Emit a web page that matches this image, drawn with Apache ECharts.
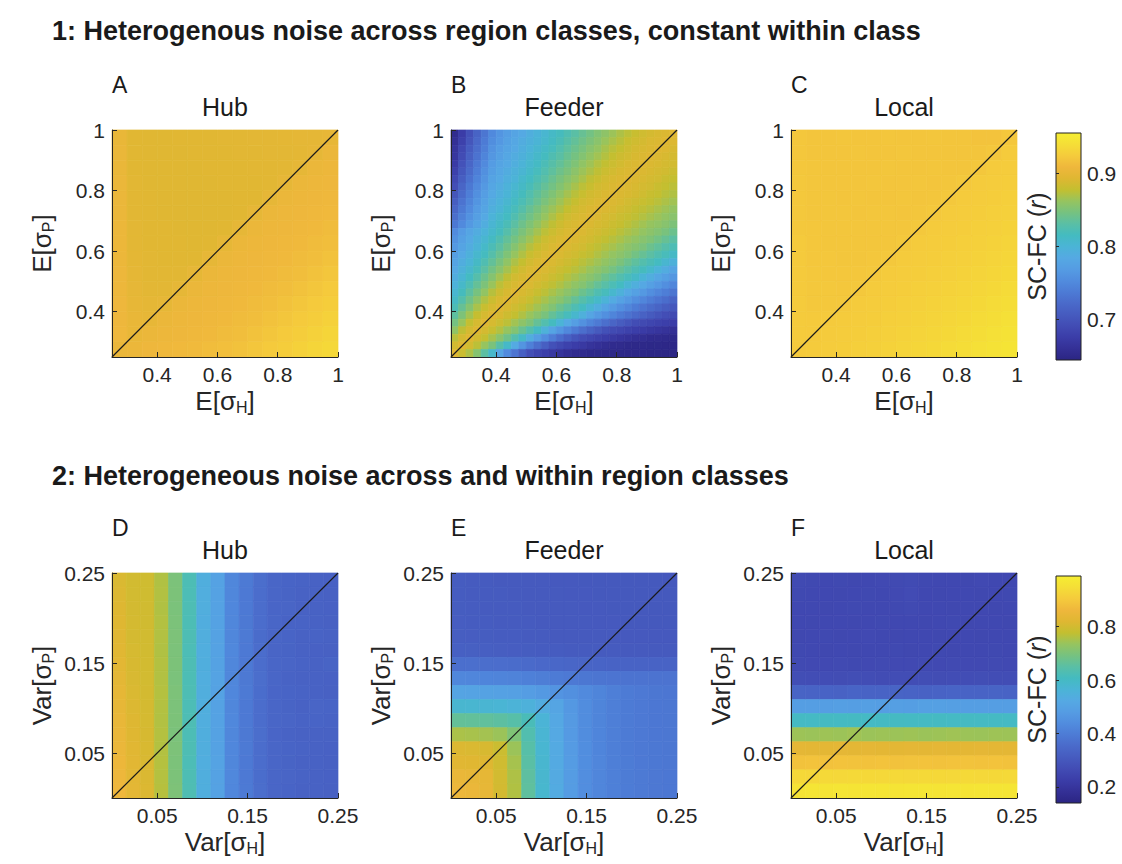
<!DOCTYPE html>
<html><head><meta charset="utf-8">
<script src="https://cdn.jsdelivr.net/npm/echarts@6/dist/echarts.min.js"></script>
<style>html,body{margin:0;padding:0;background:#fff}#c{width:1122px;height:864px}</style>
</head><body><div id="c"></div>
<script>
// ---------- data (rows listed top -> bottom, columns left -> right) ----------
const eRange = [0.25, 1];            // E[sigma] axis extent
const vRange = [0, 0.25];            // Var[sigma] axis extent
const eTicks = [0.4, 0.6, 0.8, 1];
const vTicks = [0.05, 0.15, 0.25];
const cRange1 = [0.645, 0.955];      // colour scale, row 1
const cRange2 = [0.14, 0.99];        // colour scale, row 2
const cbTicks1 = [0.7, 0.8, 0.9];
const cbTicks2 = [0.2, 0.4, 0.6, 0.8];
const panelTitles = ['Hub', 'Feeder', 'Local', 'Hub', 'Feeder', 'Local'];
const panelLetters = ['A', 'B', 'C', 'D', 'E', 'F'];
const rowTitles = ['1: Heterogenous noise across region classes, constant within class',
                   '2: Heterogeneous noise across and within region classes'];

const eHub = [
[.903,.895,.894,.894,.895,.895,.895,.896,.896,.897,.897,.898,.899,.899,.901],
[.904,.895,.894,.894,.894,.895,.895,.895,.896,.896,.897,.897,.898,.900,.905],
[.904,.895,.894,.894,.894,.894,.895,.895,.895,.896,.896,.897,.900,.905,.907],
[.905,.896,.894,.894,.894,.894,.894,.895,.895,.895,.896,.900,.905,.907,.908],
[.905,.896,.895,.894,.894,.894,.894,.894,.895,.895,.900,.905,.907,.908,.909],
[.905,.896,.895,.894,.894,.894,.894,.894,.895,.900,.905,.907,.908,.909,.910],
[.906,.897,.895,.895,.894,.894,.894,.895,.900,.905,.907,.908,.909,.910,.912],
[.906,.897,.895,.895,.895,.894,.895,.900,.905,.907,.908,.909,.910,.912,.914],
[.906,.898,.896,.895,.895,.895,.900,.905,.907,.908,.909,.910,.912,.914,.917],
[.907,.899,.896,.896,.896,.900,.905,.907,.908,.909,.910,.912,.914,.917,.920],
[.907,.900,.897,.897,.900,.905,.907,.908,.909,.910,.912,.914,.917,.920,.923],
[.908,.901,.899,.900,.905,.907,.908,.909,.910,.912,.914,.917,.920,.923,.926],
[.908,.903,.901,.905,.907,.908,.909,.910,.912,.914,.917,.920,.923,.926,.929],
[.909,.903,.905,.907,.908,.909,.910,.912,.914,.917,.920,.923,.926,.929,.932],
[.905,.906,.908,.909,.910,.911,.913,.915,.917,.920,.923,.926,.929,.932,.935]
];

const eFeeder = [
[.655,.675,.697,.716,.733,.751,.762,.771,.779,.785,.792,.798,.804,.811,.817,.824,.831,.838,.845,.852,.858,.864,.870,.875,.880,.884,.887,.889,.891,.893],
[.660,.680,.702,.721,.738,.755,.765,.775,.782,.789,.795,.801,.807,.814,.821,.829,.836,.843,.850,.856,.863,.869,.874,.880,.884,.887,.890,.891,.893,.892],
[.665,.687,.708,.726,.742,.760,.770,.778,.785,.792,.798,.805,.812,.818,.826,.834,.841,.848,.855,.861,.868,.874,.878,.883,.887,.889,.891,.893,.892,.889],
[.668,.692,.713,.731,.747,.764,.774,.782,.789,.795,.802,.809,.816,.824,.831,.839,.846,.853,.860,.866,.872,.878,.883,.886,.889,.891,.893,.891,.889,.887],
[.673,.698,.718,.736,.752,.769,.778,.785,.792,.799,.806,.813,.821,.829,.836,.844,.851,.859,.865,.872,.877,.882,.886,.889,.891,.893,.891,.889,.887,.886],
[.680,.704,.723,.741,.757,.773,.782,.789,.796,.803,.810,.818,.826,.834,.842,.849,.857,.864,.870,.876,.882,.886,.889,.891,.893,.891,.889,.887,.885,.882],
[.687,.710,.729,.746,.761,.777,.785,.793,.799,.808,.815,.823,.831,.840,.848,.855,.862,.869,.876,.881,.886,.889,.891,.893,.891,.889,.887,.885,.881,.878],
[.694,.717,.735,.752,.766,.781,.789,.797,.804,.812,.820,.829,.837,.845,.853,.861,.868,.875,.880,.886,.888,.891,.893,.891,.889,.887,.885,.881,.878,.875],
[.702,.723,.741,.757,.771,.785,.793,.800,.809,.817,.826,.835,.843,.851,.859,.867,.874,.880,.885,.888,.891,.893,.891,.889,.887,.884,.880,.878,.874,.871],
[.710,.731,.747,.762,.776,.789,.797,.805,.814,.822,.831,.840,.849,.857,.865,.873,.879,.885,.888,.891,.893,.891,.889,.886,.883,.880,.877,.874,.870,.866],
[.718,.737,.753,.768,.780,.793,.801,.810,.819,.828,.838,.847,.856,.864,.871,.878,.884,.888,.891,.893,.891,.889,.886,.883,.879,.876,.873,.869,.865,.861],
[.726,.744,.759,.773,.784,.798,.807,.815,.825,.835,.844,.853,.862,.870,.877,.884,.888,.890,.893,.891,.888,.886,.882,.879,.876,.872,.868,.864,.860,.856],
[.735,.752,.766,.778,.790,.803,.812,.821,.832,.842,.851,.860,.869,.876,.883,.888,.890,.893,.891,.888,.886,.882,.879,.875,.871,.866,.862,.859,.855,.850],
[.753,.768,.780,.789,.798,.808,.817,.828,.839,.849,.858,.867,.875,.882,.887,.890,.893,.891,.888,.885,.882,.878,.874,.870,.866,.861,.857,.853,.848,.841],
[.759,.774,.785,.795,.804,.814,.825,.836,.846,.856,.865,.874,.882,.887,.890,.893,.891,.888,.885,.881,.877,.873,.869,.864,.860,.855,.851,.845,.838,.832],
[.766,.779,.789,.799,.810,.821,.832,.843,.854,.864,.873,.880,.886,.890,.893,.890,.888,.885,.880,.876,.872,.868,.863,.858,.854,.849,.841,.835,.828,.822],
[.772,.784,.795,.806,.816,.828,.840,.851,.862,.871,.880,.886,.890,.893,.890,.887,.884,.879,.876,.871,.866,.861,.857,.852,.845,.838,.832,.825,.819,.812],
[.778,.790,.800,.812,.824,.836,.848,.859,.870,.878,.886,.890,.893,.890,.887,.883,.879,.874,.870,.865,.860,.855,.849,.841,.834,.827,.821,.815,.805,.796],
[.784,.796,.807,.819,.832,.845,.856,.867,.877,.885,.890,.893,.890,.887,.882,.878,.874,.869,.863,.858,.853,.846,.838,.831,.823,.817,.808,.798,.789,.779],
[.790,.802,.815,.828,.841,.854,.866,.876,.885,.889,.893,.890,.887,.882,.877,.872,.867,.861,.856,.850,.841,.834,.826,.819,.811,.800,.791,.781,.773,.764],
[.797,.809,.823,.837,.850,.863,.875,.884,.889,.893,.890,.886,.881,.876,.871,.865,.859,.854,.846,.837,.830,.822,.815,.803,.793,.783,.774,.765,.756,.748],
[.804,.817,.833,.847,.860,.873,.883,.889,.893,.889,.886,.880,.875,.869,.863,.857,.851,.841,.834,.824,.818,.806,.796,.785,.775,.766,.756,.748,.741,.733],
[.812,.827,.843,.858,.871,.882,.889,.893,.889,.885,.880,.874,.868,.861,.855,.847,.837,.828,.820,.810,.799,.787,.776,.766,.756,.748,.740,.732,.725,.716],
[.821,.838,.854,.869,.880,.888,.893,.889,.884,.879,.873,.866,.859,.852,.841,.833,.823,.815,.802,.791,.778,.767,.757,.748,.739,.731,.723,.716,.709,.703],
[.833,.850,.866,.879,.888,.893,.889,.883,.878,.871,.863,.856,.848,.837,.827,.818,.806,.794,.780,.767,.757,.747,.738,.730,.722,.714,.707,.700,.694,.689],
[.846,.863,.878,.888,.893,.888,.882,.875,.866,.858,.850,.837,.826,.816,.800,.785,.771,.758,.747,.737,.727,.717,.709,.701,.693,.689,.685,.681,.678,.675],
[.859,.876,.887,.893,.887,.880,.872,.862,.853,.840,.827,.814,.796,.778,.763,.750,.738,.726,.716,.706,.697,.690,.686,.681,.677,.674,.670,.667,.664,.660],
[.874,.887,.893,.886,.878,.868,.856,.843,.827,.811,.790,.771,.754,.740,.725,.712,.701,.691,.686,.680,.676,.671,.667,.663,.659,.657,.654,.653,.652,.651],
[.886,.893,.886,.875,.862,.849,.829,.810,.786,.762,.743,.727,.711,.697,.688,.681,.676,.671,.665,.661,.657,.654,.653,.651,.650,.650,.649,.649,.648,.648],
[.893,.882,.870,.854,.832,.808,.778,.753,.732,.712,.695,.685,.677,.671,.665,.659,.655,.653,.651,.650,.650,.649,.649,.648,.648,.648,.647,.647,.647,.646]
];

const eLocal = [
[.921,.919,.919,.920,.919,.919,.920,.919,.919,.920,.919,.919,.918,.918,.921],
[.921,.919,.919,.919,.920,.919,.919,.920,.919,.919,.919,.919,.919,.921,.924],
[.921,.920,.919,.919,.919,.919,.920,.919,.919,.920,.919,.919,.921,.924,.925],
[.922,.920,.919,.919,.919,.920,.919,.919,.920,.919,.920,.922,.924,.925,.926],
[.922,.920,.920,.919,.920,.919,.919,.920,.919,.920,.922,.924,.925,.926,.927],
[.922,.920,.920,.920,.919,.920,.920,.919,.920,.922,.924,.925,.926,.927,.928],
[.922,.921,.920,.920,.920,.920,.920,.920,.922,.924,.925,.926,.927,.928,.930],
[.923,.921,.920,.920,.920,.920,.920,.922,.924,.925,.926,.927,.928,.930,.931],
[.923,.921,.921,.920,.920,.921,.922,.924,.925,.926,.927,.928,.930,.931,.933],
[.923,.922,.921,.921,.921,.922,.924,.925,.926,.927,.928,.930,.931,.933,.935],
[.923,.922,.922,.921,.922,.924,.925,.926,.927,.928,.930,.931,.933,.935,.937],
[.924,.922,.922,.922,.924,.925,.926,.927,.928,.930,.931,.933,.935,.937,.939],
[.924,.923,.923,.924,.925,.926,.927,.928,.930,.931,.933,.935,.937,.939,.941],
[.924,.923,.924,.925,.926,.927,.928,.930,.931,.933,.935,.937,.939,.941,.943],
[.923,.924,.925,.926,.927,.928,.930,.931,.933,.935,.937,.939,.941,.943,.945]
];

const vHub = [
[.812,.800,.795,.760,.700,.625,.542,.498,.425,.392,.362,.340,.336,.332,.330,.328],
[.815,.801,.796,.761,.701,.624,.540,.500,.424,.390,.360,.341,.335,.331,.331,.327],
[.818,.802,.797,.760,.699,.626,.541,.499,.426,.391,.361,.339,.337,.330,.329,.328],
[.820,.803,.797,.762,.700,.625,.539,.501,.425,.389,.360,.340,.334,.333,.330,.326],
[.823,.804,.798,.761,.702,.627,.541,.500,.424,.392,.358,.341,.336,.331,.332,.329],
[.826,.806,.799,.760,.700,.624,.540,.498,.427,.390,.361,.338,.335,.330,.328,.327],
[.830,.808,.800,.762,.701,.626,.542,.500,.425,.391,.360,.340,.337,.332,.330,.335],
[.834,.810,.801,.761,.699,.625,.540,.502,.424,.389,.362,.341,.334,.331,.329,.328],
[.838,.812,.802,.763,.702,.627,.541,.499,.426,.392,.359,.339,.336,.333,.331,.327],
[.842,.815,.803,.762,.700,.624,.543,.500,.425,.390,.361,.340,.335,.330,.338,.336],
[.846,.818,.805,.761,.701,.626,.540,.501,.427,.391,.360,.342,.337,.332,.336,.334],
[.850,.821,.807,.763,.699,.625,.542,.499,.424,.389,.362,.339,.334,.331,.330,.329],
[.853,.824,.809,.762,.702,.627,.541,.500,.426,.392,.360,.341,.336,.333,.331,.328],
[.856,.827,.811,.764,.700,.624,.540,.502,.425,.390,.361,.340,.335,.330,.329,.327],
[.859,.830,.813,.763,.701,.626,.542,.499,.427,.391,.359,.342,.337,.332,.330,.328],
[.862,.833,.815,.765,.703,.628,.543,.501,.426,.392,.362,.341,.336,.331,.329,.327]
];

const vFeeder = [
[.312,.310,.309,.308,.307,.306,.306,.305,.305,.304,.304,.304,.303,.303,.303,.302],
[.313,.311,.310,.309,.308,.307,.306,.306,.305,.305,.304,.304,.304,.303,.303,.303],
[.315,.313,.311,.310,.309,.308,.307,.306,.306,.305,.305,.304,.304,.304,.303,.303],
[.316,.314,.313,.311,.310,.309,.308,.307,.306,.306,.305,.305,.304,.304,.304,.304],
[.318,.316,.315,.313,.312,.310,.309,.308,.307,.307,.306,.306,.305,.305,.305,.305],
[.325,.323,.321,.319,.317,.315,.313,.312,.311,.310,.309,.309,.308,.308,.308,.307],
[.365,.364,.362,.360,.357,.352,.348,.344,.340,.338,.336,.334,.333,.333,.332,.332],
[.425,.423,.421,.418,.414,.408,.402,.396,.390,.385,.381,.378,.376,.375,.374,.374],
[.505,.503,.500,.497,.492,.484,.472,.460,.447,.433,.420,.405,.395,.390,.385,.383],
[.578,.576,.573,.569,.562,.552,.535,.510,.470,.440,.420,.405,.395,.390,.386,.384],
[.665,.663,.660,.655,.645,.620,.565,.520,.475,.440,.420,.405,.395,.390,.386,.384],
[.755,.752,.748,.740,.705,.635,.570,.522,.476,.441,.421,.405,.396,.390,.386,.384],
[.815,.812,.808,.790,.740,.645,.575,.525,.478,.442,.421,.406,.396,.391,.387,.385],
[.825,.822,.818,.795,.750,.650,.578,.527,.479,.442,.422,.406,.397,.391,.387,.385],
[.848,.845,.838,.800,.758,.656,.580,.528,.480,.443,.422,.407,.397,.392,.388,.386],
[.858,.852,.842,.802,.760,.658,.581,.529,.481,.444,.423,.407,.398,.392,.388,.386]
];

const vLocal = [
[.262,.258,.256,.258,.255,.257,.260,.262,.264,.258,.256,.257,.255,.259,.257,.256],
[.258,.256,.257,.255,.256,.258,.257,.259,.266,.257,.255,.256,.257,.255,.256,.258],
[.256,.257,.255,.256,.258,.256,.257,.258,.262,.256,.257,.255,.256,.257,.255,.256],
[.257,.255,.256,.257,.255,.256,.258,.256,.257,.255,.256,.258,.255,.256,.257,.255],
[.255,.256,.258,.255,.257,.260,.256,.255,.256,.257,.255,.256,.257,.255,.256,.257],
[.258,.257,.255,.256,.255,.257,.256,.258,.255,.256,.258,.255,.256,.257,.258,.256],
[.262,.260,.259,.261,.258,.260,.262,.259,.260,.261,.259,.262,.260,.259,.261,.260],
[.272,.270,.271,.269,.272,.270,.268,.271,.270,.272,.269,.271,.270,.272,.270,.271],
[.335,.332,.334,.331,.336,.333,.332,.335,.333,.331,.334,.336,.332,.333,.335,.332],
[.488,.485,.487,.490,.486,.489,.487,.491,.488,.494,.492,.489,.487,.486,.488,.487],
[.602,.600,.603,.601,.604,.600,.602,.603,.601,.602,.604,.600,.603,.601,.602,.600],
[.742,.740,.743,.741,.744,.740,.742,.741,.743,.740,.742,.744,.741,.740,.743,.742],
[.835,.832,.834,.836,.833,.835,.834,.832,.836,.833,.835,.834,.832,.835,.833,.834],
[.885,.888,.886,.889,.887,.885,.888,.886,.887,.889,.886,.888,.887,.885,.888,.886],
[.935,.932,.936,.934,.937,.935,.933,.936,.934,.937,.935,.933,.936,.934,.935,.936],
[.962,.965,.964,.966,.963,.965,.967,.964,.966,.965,.963,.966,.964,.967,.965,.966]
];

// parula-like colour map (21 evenly spaced stops)
const parula = ['#2b2583','#343096','#3b3da8','#424cb4','#465bbf','#4a6aca',
                '#4d7bd5','#518cde','#559ce3','#55a9e3','#4bb4d6','#44bbc0',
                '#5abfa5','#76c280','#96c45f','#c3bf30','#dfb732','#efb73c',
                '#f5cb3c','#f5de37','#f6ee32'];

// ---------- layout ----------
const FONT = '"Liberation Sans", Arial, Helvetica, sans-serif';
const INK = '#262626';
const colsX = [112, 451, 791];
const rowsY = [130, 573];
const PW = 226, PH = 227;

const grids = [], xAxes = [], yAxes = [], series = [], graphics = [];

const panels = [
  {rows: eHub, range: eRange, ticks: eTicks, xn: 'E[σ{s|H}]', yn: 'E[σ{s|P}]'},
  {rows: eFeeder, range: eRange, ticks: eTicks, xn: 'E[σ{s|H}]', yn: 'E[σ{s|P}]'},
  {rows: eLocal, range: eRange, ticks: eTicks, xn: 'E[σ{s|H}]', yn: 'E[σ{s|P}]'},
  {rows: vHub, range: vRange, ticks: vTicks, xn: 'Var[σ{s|H}]', yn: 'Var[σ{s|P}]'},
  {rows: vFeeder, range: vRange, ticks: vTicks, xn: 'Var[σ{s|H}]', yn: 'Var[σ{s|P}]'},
  {rows: vLocal, range: vRange, ticks: vTicks, xn: 'Var[σ{s|H}]', yn: 'Var[σ{s|P}]'}
];

function cells(rows, lo, hi) {
  const n = rows.length, m = rows[0].length, dx = (hi - lo) / m, dy = (hi - lo) / n;
  const out = [];
  rows.forEach((row, r) => {
    const yi = n - 1 - r;
    row.forEach((v, j) => out.push([lo + j * dx, lo + (j + 1) * dx, lo + yi * dy, lo + (yi + 1) * dy, v]));
  });
  return out;
}

const nameStyle = {
  fontSize: 26, color: INK, fontFamily: FONT,
  rich: { s: { fontSize: 16, color: INK, fontFamily: FONT, verticalAlign: 'bottom', padding: [13, 0, 0, 0] } }
};

function valueAxis(gi, range, ticks, name, isY) {
  return {
    type: 'value', gridIndex: gi, min: range[0], max: range[1], z: 10,
    position: isY ? 'left' : 'bottom',
    axisLine: { show: true, onZero: false, lineStyle: { color: INK, width: 1 } },
    axisTick: { show: true, inside: true, length: 5, customValues: ticks, lineStyle: { color: INK, width: 1 } },
    axisLabel: { customValues: ticks, fontSize: 21, color: INK, fontFamily: FONT, margin: 7 },
    splitLine: { show: false },
    name: name, nameLocation: 'middle', nameGap: isY ? 56 : 29,
    nameRotate: isY ? 90 : 0,
    nameTextStyle: nameStyle
  };
}

panels.forEach((p, k) => {
  const left = colsX[k % 3], top = rowsY[Math.floor(k / 3)];
  grids.push({ left: left, top: top, width: PW, height: k < 3 ? PH : 225 });
  xAxes.push(valueAxis(k, p.range, p.ticks, p.xn, false));
  yAxes.push(valueAxis(k, p.range, p.ticks, p.yn, true));
  series.push({
    type: 'custom', xAxisIndex: k, yAxisIndex: k, silent: true, z: 1,
    data: cells(p.rows, p.range[0], p.range[1]),
    encode: { x: [0, 1], y: [2, 3] },
    renderItem: function (params, api) {
      const a = api.coord([api.value(0), api.value(3)]);
      const b = api.coord([api.value(1), api.value(2)]);
      const c = api.visual('color');
      return { type: 'rect', shape: { x: a[0], y: a[1], width: b[0] - a[0], height: b[1] - a[1] },
               style: { fill: c, stroke: c, lineWidth: 0.7 } };
    }
  });
  series.push({
    type: 'line', xAxisIndex: k, yAxisIndex: k, silent: true, z: 5, symbol: 'none',
    data: [[p.range[0], p.range[0]], [p.range[1], p.range[1]]],
    lineStyle: { color: '#1a1a1a', width: 1.2 }, animation: false
  });
  graphics.push({ type: 'text', x: left, y: top - 45, style: { text: panelLetters[k], font: '23px ' + FONT, fill: '#1a1a1a', verticalAlign: 'middle' } });
  graphics.push({ type: 'text', x: left + PW / 2, y: top - 23, style: { text: panelTitles[k], font: '25px ' + FONT, fill: '#1a1a1a', align: 'center', verticalAlign: 'middle' } });
});

// colour bars
const cbs = [{ top: 133, range: cRange1, ticks: cbTicks1 }, { top: 576, range: cRange2, ticks: cbTicks2 }];
cbs.forEach((cb, i) => {
  const gi = 6 + i;
  grids.push({ left: 1056, top: cb.top, width: 25, height: 227 });
  xAxes.push({ type: 'value', gridIndex: gi, min: 0, max: 1, show: false });
  yAxes.push({
    type: 'value', gridIndex: gi, min: cb.range[0], max: cb.range[1], position: 'right', z: 10,
    axisLine: { show: false },
    axisTick: { show: true, inside: false, length: 3, customValues: cb.ticks, lineStyle: { color: INK } },
    axisLabel: { customValues: cb.ticks, fontSize: 21, color: INK, fontFamily: FONT, margin: 6 },
    splitLine: { show: false }
  });
  yAxes.push({
    type: 'value', gridIndex: gi, min: cb.range[0], max: cb.range[1], position: 'left',
    axisLine: { show: false }, axisTick: { show: false }, axisLabel: { show: false }, splitLine: { show: false },
    name: 'SC-FC ({i|r})', nameLocation: 'middle', nameRotate: 90, nameGap: 7,
    nameTextStyle: { fontSize: 25, color: INK, fontFamily: FONT, rich: { i: { fontSize: 25, fontStyle: 'italic', color: INK, fontFamily: FONT } } }
  });
  const yi = yAxes.length - 2;
  series.push({
    type: 'custom', xAxisIndex: gi, yAxisIndex: yi, silent: true,
    data: [[0, 1, cb.range[0], cb.range[1]]],
    encode: { x: [0, 1], y: [2, 3] },
    renderItem: function (params, api) {
      const a = api.coord([api.value(0), api.value(3)]);
      const b = api.coord([api.value(1), api.value(2)]);
      return { type: 'rect', shape: { x: a[0], y: a[1], width: b[0] - a[0], height: b[1] - a[1] },
        style: { stroke: '#222', lineWidth: 1,
          fill: { type: 'linear', x: 0, y: 1, x2: 0, y2: 0,
                  colorStops: parula.map((c, n) => ({ offset: n / (parula.length - 1), color: c })) } } };
    }
  });
});

const chart = echarts.init(document.getElementById('c'), null, { renderer: 'svg' });
chart.setOption({
  animation: false,
  backgroundColor: '#ffffff',
  title: rowTitles.map((t, i) => ({
    text: t, left: 52, top: i === 0 ? 17 : 462, padding: 0,
    textStyle: { fontSize: 27, fontWeight: 'bold', color: '#1a1a1a', fontFamily: FONT }
  })),
  grid: grids,
  xAxis: xAxes,
  yAxis: yAxes,
  visualMap: [
    { type: 'continuous', show: false, min: cRange1[0], max: cRange1[1], dimension: 4, seriesIndex: [0, 2, 4], inRange: { color: parula } },
    { type: 'continuous', show: false, min: cRange2[0], max: cRange2[1], dimension: 4, seriesIndex: [6, 8, 10], inRange: { color: parula } }
  ],
  graphic: graphics,
  series: series
});
</script>
</body></html>
